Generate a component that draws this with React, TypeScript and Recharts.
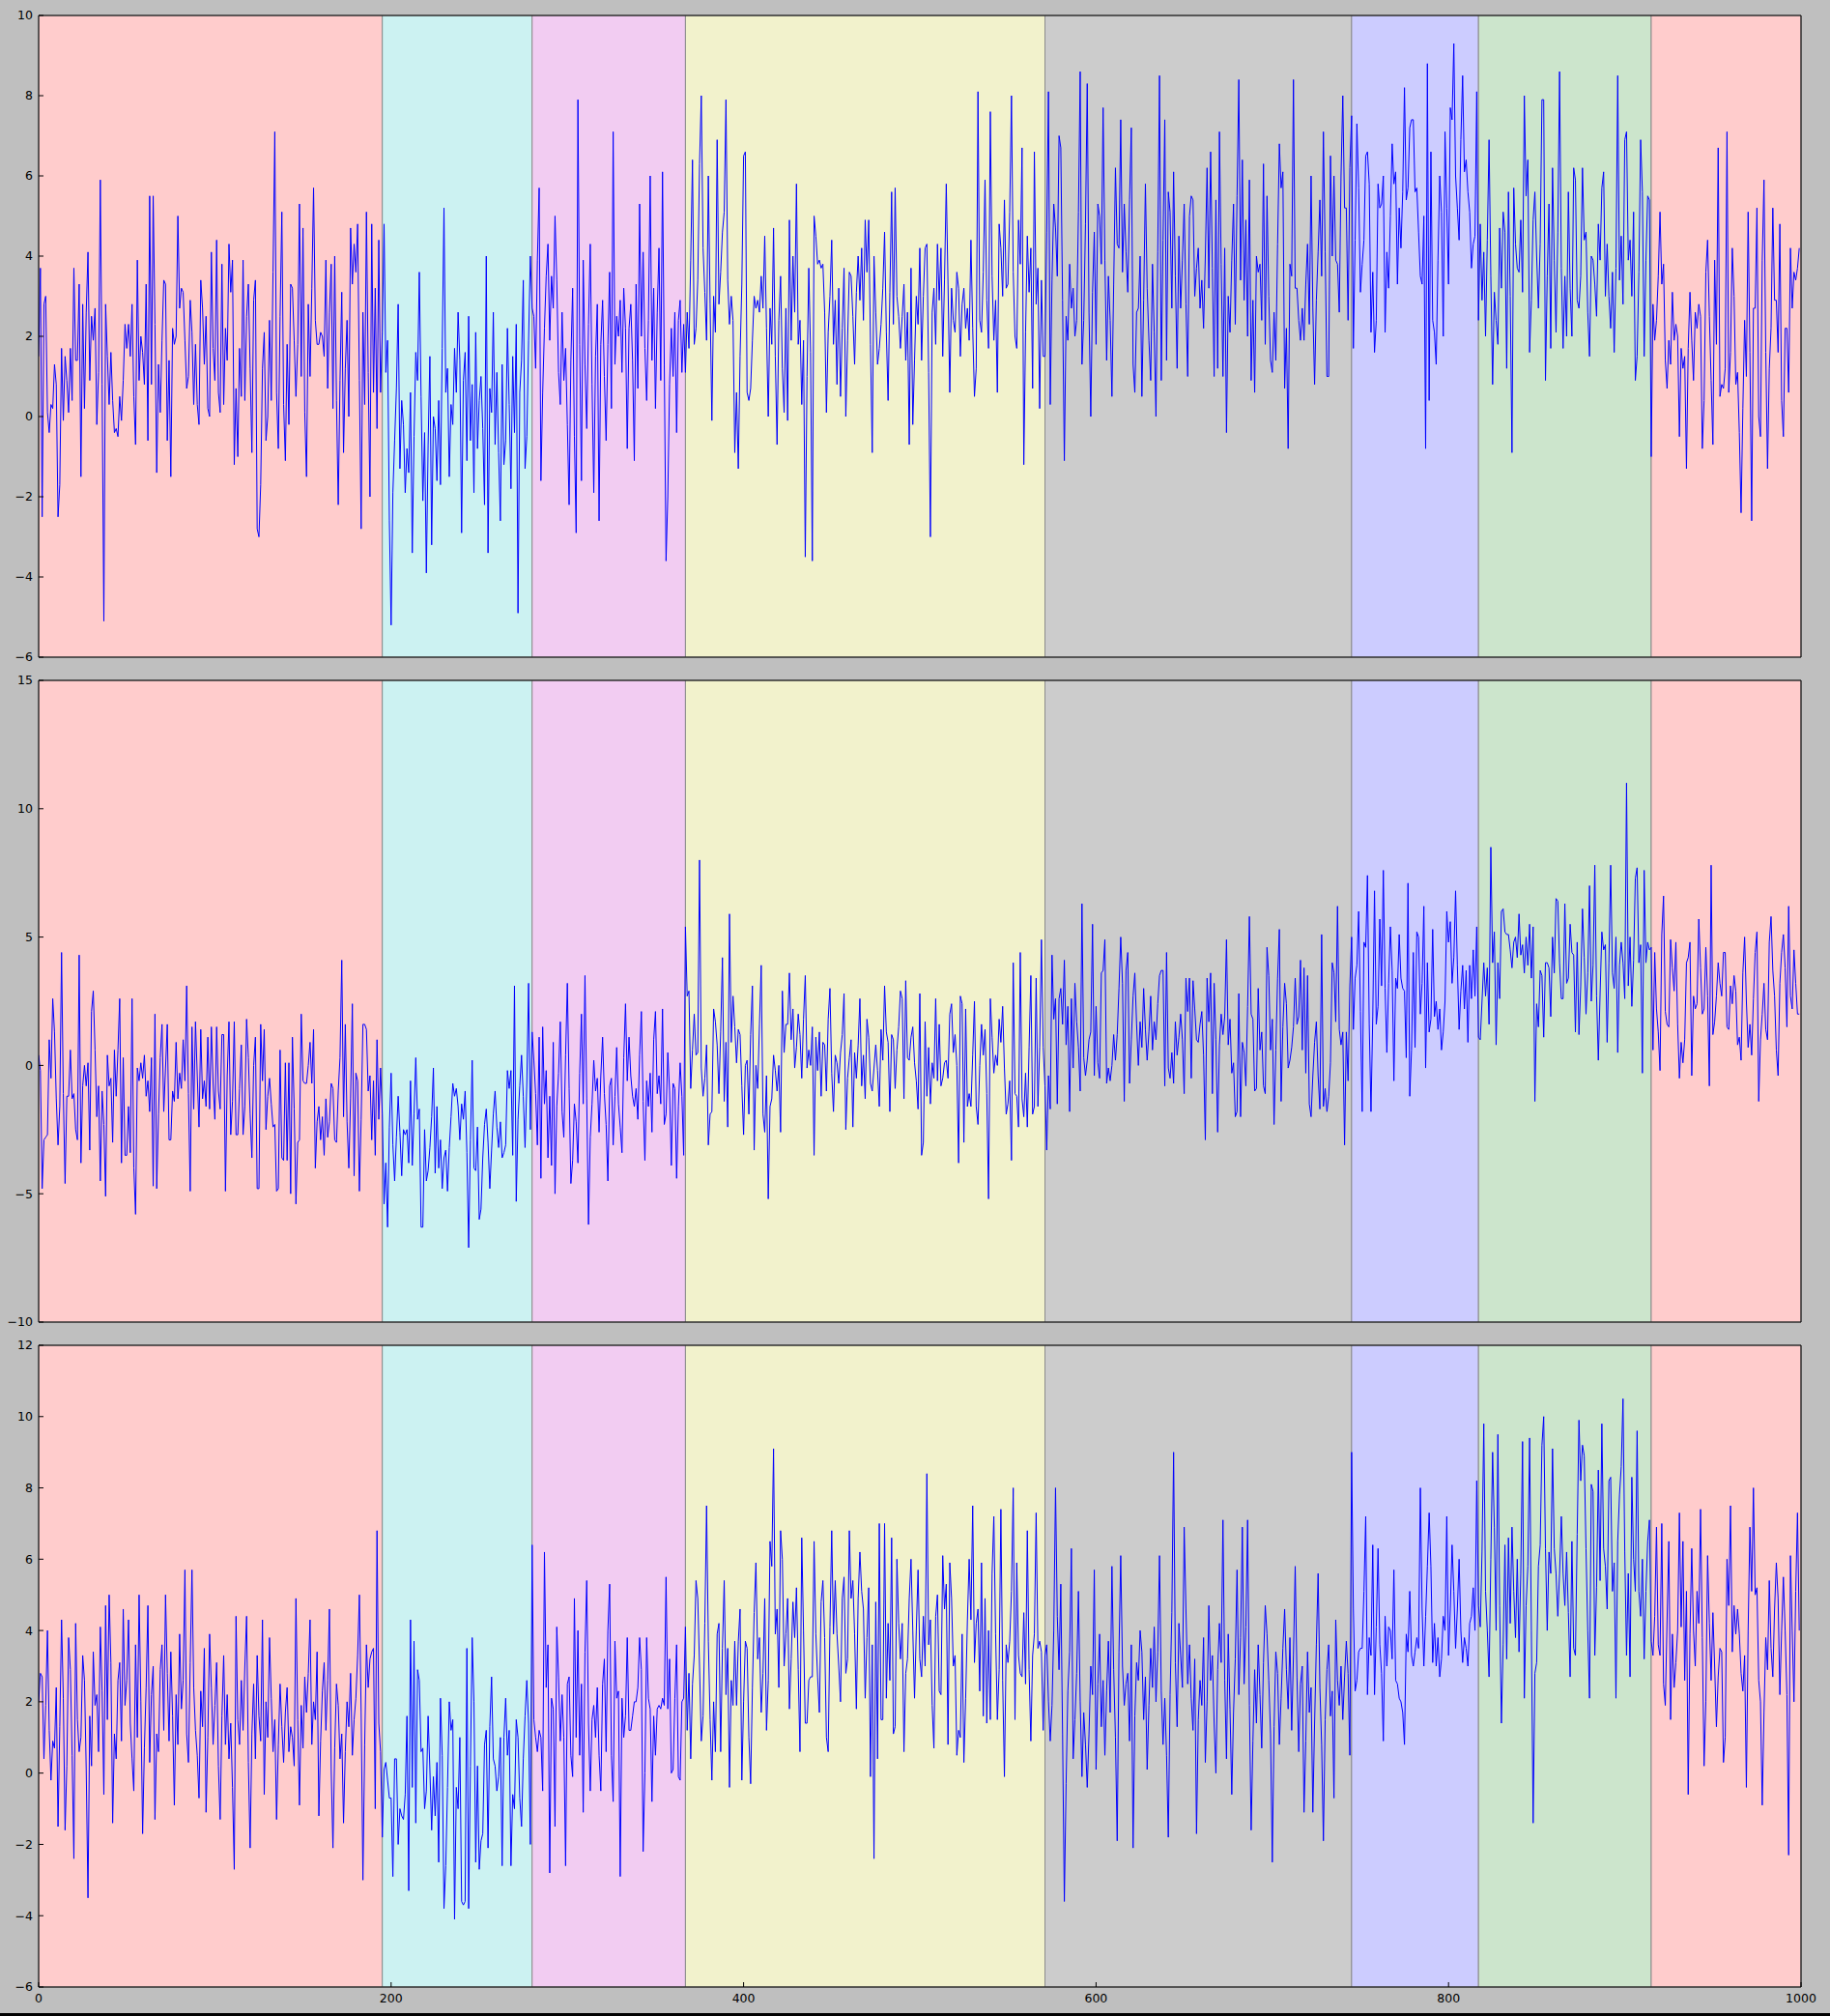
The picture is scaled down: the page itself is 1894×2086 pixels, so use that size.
import { LineChart, Line, XAxis, YAxis, ReferenceArea } from "recharts";

// shaded regions: boundaries on the x axis and their colours (left to right)
const SPAN_EDGES = [0, 195, 280, 367, 571, 745, 817, 915, 1000];
const SPAN_COLORS = ["#ffcccc", "#ccf2f2", "#f2ccf2", "#f2f2cc", "#cccccc", "#ccccff", "#cce5cc", "#ffcccc"];

const X_TICKS = [0, 200, 400, 600, 800, 1000];
const TOP_TICKS = [-6, -4, -2, 0, 2, 4, 6, 8, 10];
const MIDDLE_TICKS = [-10, -5, 0, 5, 10, 15];
const BOTTOM_TICKS = [-6, -4, -2, 0, 2, 4, 6, 8, 10, 12];

// one value per x = 0..999
const TOP_VALUES = [
  // red 0-194
  1.5, 3.7, -2.5, 2.8, 3.0, 0.1, -0.4, 0.3, 0.2, 1.3, 0.8, -2.5, -1.7, 1.7, -0.1, 1.5, 0.9, 0.1, 1.7, 0.4,
  3.7, 1.4, 1.4, 3.3, -1.5, 2.8, 0.2, 2.6, 4.1, 0.9, 2.5, 1.9, 2.7, -0.2, 1.1, 5.9, 0.8, -5.1, 2.8, 1.5,
  0.3, 1.6, 0.4, -0.4, -0.3, -0.5, 0.5, -0.1, 0.9, 2.3, 1.7, 2.3, 1.5, 2.8, 0.5, -0.7, 3.9, 0.9, 2.0, 1.6,
  0.8, 3.3, -0.6, 5.5, 0.8, 5.5, 2.3, -1.4, 1.3, 0.1, 1.9, 3.4, 3.3, -0.6, 1.4, -1.5, 2.2, 1.8, 2.0, 5.0,
  2.7, 3.2, 3.1, 1.9, 0.7, 1.0, 2.9, 2.1, 0.3, 1.8, 0.3, -0.2, 3.4, 2.7, 1.3, 2.5, 0.2, 0.0, 4.1, 1.7,
  0.9, 4.4, 0.6, 0.1, 3.8, 0.3, 2.2, 1.4, 4.3, 3.1, 3.9, -1.2, 0.7, -1.0, 1.7, 0.5, 3.9, 0.4, 2.5, 3.3,
  1.2, -0.9, 2.9, 3.4, -2.8, -3.0, -1.7, 1.2, 2.1, -0.6, 0.0, 2.4, 0.4, 3.6, 7.1, 0.6, -0.8, 2.5, 5.1, 0.3,
  -1.1, 1.8, -0.2, 3.3, 3.2, 1.9, 0.5, 1.8, 5.3, 1.0, 4.7, 0.1, -1.5, 2.8, 1.0, 3.2, 5.7, 2.4, 1.8, 1.8,
  2.1, 2.0, 1.5, 3.9, 0.7, 2.6, 3.8, 0.2, 4.0, 0.4, -2.2, 0.9, 3.1, -0.9, 1.2, 2.4, 0.0, 4.7, 3.3, 4.3,
  3.6, 4.8, 0.9, -2.8, 2.6, 0.3, 5.1, 1.1, -2.0, 4.8, 0.6, 3.2, -0.3, 4.4, 0.6,
  // cyan 195-279
  2.1, 4.8, 1.1, 1.9, -2.6, -5.2, -1.9, -0.6, 0.7, 2.8, -1.3, 0.4, -0.2, -1.9, -0.8, -1.4, 0.6, -3.4, -0.5, 1.6,
  0.9, 3.6, 0.5, -2.1, -0.4, -3.9, -0.7, 1.5, -3.2, 0.0, -0.3, -1.6, 0.4, -1.7, 1.7, 5.2, 0.6, 1.2, -1.5, 0.3,
  -0.2, 1.7, 0.6, 2.6, 1.4, -2.9, 0.9, 1.6, -1.1, 2.5, -0.6, 0.8, -1.9, 2.1, -0.8, 0.4, 1.0, -0.3, -2.2, 4.0,
  -3.4, 0.7, 0.1, 2.6, -0.7, 1.1, -0.9, -2.6, 1.3, -1.2, -0.6, 2.2, 0.3, -1.8, 1.5, -0.4, 2.3, -4.9, 0.6, 1.4,
  3.4, -1.3, -0.5, 1.9, 4.0,
  // magenta 280-366
  2.7, 2.5, 1.2, 3.9, 5.7, -1.6, 0.6, 2.2, 3.5, 4.3, 1.9, 3.5, 2.7, 5.0, 3.4, 1.1, 0.3, 2.6, 0.9, 1.7,
  -0.2, -2.2, 1.4, 3.2, -0.5, -2.9, 7.9, 1.8, -1.6, 3.9, 1.3, -0.3, 2.3, 4.3, 0.8, -1.9, 1.5, 2.8, -2.6, 1.8,
  2.9, 1.0, -0.6, 1.8, 3.6, 0.2, 7.1, 1.3, 2.5, 2.0, 2.9, 1.1, 3.2, 2.2, -0.8, 2.2, 2.8, 1.4, -1.1, 3.3,
  0.7, 5.3, 2.0, 4.1, 1.7, 0.4, 2.4, 6.0, 1.4, 3.2, 0.2, 2.6, 4.2, 0.9, 6.1, 1.3, -3.6, -2.0, 0.8, 2.2,
  1.0, 2.6, -0.4, 2.4, 2.9, 1.1, 2.3,
  // yellow 367-570
  1.1, 2.6, 1.7, 3.9, 6.4, 1.8, 2.2, 3.4, 6.3, 8.0, 4.2, 3.1, 1.9, 6.0, 2.8, -0.1, 3.0, 2.1, 6.9, 2.8,
  3.6, 4.6, 5.1, 7.9, 3.4, 2.3, 3.0, 2.4, -0.9, 0.6, -1.3, 1.5, 3.3, 6.5, 6.6,
  0.6, 0.4, 0.7, 1.9, 3.0, 2.7, 2.9, 2.6, 3.5, 2.7, 4.5, 2.2, 0.0, 2.7, 1.8, 4.7, 1.5, -0.7, 2.4, 3.5,
  1.2, 0.1, 2.7, -0.1, 4.9, 1.9, 4.0, 2.6, 5.8, 1.8, 2.4, 0.3, 1.9, -3.5, 1.0, 3.7, 1.6, -3.6, 5.0, 4.5,
  3.8, 3.9, 3.7, 3.8, 2.6, 0.1, 2.1, 3.0, 4.4, 1.8, 2.9, 0.8, 3.2, 0.5, 2.2, 3.7, 0.0, 1.9, 3.6, 3.5,
  2.5, 1.3, 3.1, 4.0, 2.9, 4.2, 2.4, 4.9, 3.6, 4.9, 1.8, -0.9, 4.0, 2.6, 1.3, 1.7, 2.3, 3.2, 4.6, 2.1,
  0.4, 3.1, 5.6, 2.3, 5.7, 3.0, 2.5, 1.7, 2.5, 3.3, 1.4, 2.6, -0.7, 3.7, -0.2, 1.4, 3.0, 2.3,
  4.2, 1.4, 3.0, 4.2, 4.3, 1.1, -3.0, 2.6, 3.2, 1.8, 4.3, 2.9, 4.2, 1.5, 3.4, 5.8, 3.3, 0.6, 3.2, 2.4,
  2.1, 3.6, 3.2, 1.5, 2.8, 3.2, 2.2, 2.7, 1.9, 4.4, 2.2, 0.5, 1.2, 8.1, 2.4, 2.1, 3.6, 5.9, 2.9, 1.7,
  7.6, 3.5, 1.9, 2.9, 0.6, 4.8, 4.2, 3.0, 5.4, 3.2, 3.3, 5.1, 8.0, 3.6, 2.0, 1.7, 4.9, 3.8, 6.7, -1.2,
  2.1, 4.5, 3.1, 4.2, 0.7, 6.6, 2.8, 3.7, 0.2, 3.4, 1.5,
  // grey 571-744
  1.5, 4.6, 8.1, 0.3, 3.4, 5.3, 4.7, 3.5, 7.0, 6.7, 2.9, -1.1, 2.5, 1.9, 3.8, 2.7, 3.2, 2.0, 2.4, 5.1,
  8.6, 1.3, 2.4, 4.8, 8.3, 2.6, 0.0, 3.1, 4.6, 1.8, 5.3, 5.0, 3.8, 7.7, 3.9, 1.4, 3.5, 2.4, 0.5, 3.3,
  6.2, 4.3, 4.2, 7.4, 3.6, 5.3, 4.1, 3.1, 5.4, 7.2, 1.3, 0.6, 2.6, 2.7, 4.0, 0.5, 2.9, 5.8, 3.2, 1.9,
  0.9, 3.8, 2.1, 0.0, 4.1, 8.5, 0.9, 4.4, 7.4, 1.4, 5.6, 5.1, 2.7, 6.1, 3.5, 1.2, 4.5, 2.7, 3.9, 5.3,
  2.8, 1.0, 5.0, 5.5, 5.4, 3.0, 3.7, 4.2, 2.7, 3.4, 2.2, 4.0, 6.2, 3.2, 6.6, 3.7, 1.0, 5.4, 1.2, 7.1,
  3.8, 1.0, 4.2, -0.4, 3.0, 2.1, 3.9, 5.3, 2.3, 5.5, 8.4, 3.4, 6.4, 2.9, 4.9, 2.0, 5.9, 0.9, 2.9, 0.6,
  4.0, 3.6, 3.8, 2.4, 6.3, 1.8, 5.5, 3.0, 1.4, 1.1, 2.6, 1.4, 4.3, 6.8, 5.7, 6.1, 0.7, 2.2, -0.8, 3.8,
  3.5, 8.4, 3.2, 3.2, 2.4, 1.9, 2.7, 1.9, 3.3, 4.3, 2.3, 6.0, 2.7, 0.8, 2.9, 4.1, 5.4, 3.5, 7.1, 4.1,
  1.0, 1.0, 6.5, 4.0, 6.0, 3.9, 3.8, 2.6, 6.0, 8.0, 5.2, 5.2, 2.4, 6.2,
  // blue 745-816
  7.5, 1.7, 4.4, 7.3, 5.7, 3.1, 3.8, 4.4, 6.5, 6.6, 5.8, 2.1, 3.6, 1.6, 2.4, 5.8, 5.2, 5.3, 6.0, 2.1,
  4.1, 3.2, 5.0, 6.8, 5.8, 6.1, 3.3, 5.2, 4.2, 5.6, 8.2, 5.4, 5.7, 7.2, 7.4, 7.4, 5.6, 5.7, 4.6, 3.5,
  3.3, 5.0, -0.8, 8.8, 0.4, 6.6, 2.4, 2.1, 1.3, 3.9, 6.0, 5.1, 2.0, 7.1, 5.2, 3.3, 7.7, 7.4, 9.3, 6.0,
  5.2, 4.4, 6.9, 8.5, 6.1, 6.4, 5.6, 5.1, 3.7, 4.3, 4.5, 8.1,
  // green 817-914
  2.4, 4.8, 2.9, 4.1, 2.0, 4.4, 6.9, 3.5, 0.8, 3.1, 2.4, 1.8, 4.7, 3.2, 5.1, 4.6, 1.2, 5.6, 3.0, -0.9,
  5.7, 4.3, 3.7, 3.6, 4.9, 3.1, 8.0, 5.5, 6.4, 1.6, 2.9, 4.9, 5.6, 4.0, 2.7, 4.3, 7.9, 7.9, 0.9, 3.5,
  5.3, 1.7, 6.2, 3.9, 2.1, 4.6, 8.6, 3.7, 1.7, 3.5, 2.0, 5.6, 3.2, 2.0, 6.2, 5.9, 2.9, 2.7, 3.5, 6.2,
  4.4, 4.6, 2.6, 1.5, 4.0, 3.9, 3.3, 2.5, 4.8, 3.9, 5.7, 6.1, 3.0, 4.3, 3.0, 2.2, 3.6, 1.6, 3.7, 8.5,
  3.4, 4.5, 2.8, 6.9, 7.1, 3.9, 4.4, 3.0, 5.1, 0.9, 1.5, 3.6, 6.9, 5.6, 1.5, 3.9, 5.5, 5.4,
  // red 915-999
  -1.0, 2.8, 1.9, 2.4, 3.5, 5.1, 3.3, 3.8, 1.4, 0.7, 1.9, 1.3, 3.1, 1.9, 2.3, 2.0, -0.5, 1.7, 1.2, 1.5,
  -1.3, 1.7, 3.1, 1.9, 0.9, 2.6, 2.2, 2.8, 2.5, -0.8, 0.4, 3.6, 4.4, 2.5, 0.9, -0.7, 3.9, 1.8, 6.7, 0.5,
  0.8, 0.7, 1.2, 7.1, 0.6, 1.6, 4.2, 3.0, 0.8, 1.1, -0.4, -2.4, 0.2, 2.4, 1.0, 5.1, 1.6, -2.6, 2.7, 2.7,
  5.2, 0.0, -0.5, 3.9, 5.9, 1.6, -1.3, 1.2, 2.2, 5.2, 2.9, 2.9, 1.6, 4.8, 0.4, -0.5, 2.2, 2.2, 0.6, 4.2,
  2.7, 3.6, 3.4, 3.7, 4.2,
];

const MIDDLE_VALUES = [
  // red 0-194
  0.4, -0.2, -4.8, -2.9, -2.8, -2.7, 1.0, -0.5, 2.6, 1.3, -1.3, -3.1, -1.6, 4.4, -1.1, -4.6, -1.2, -1.2, 0.6, -1.3,
  -1.1, -2.5, -2.9, 4.3, -3.8, -0.8, 0.0, -0.8, 0.1, -3.3, 2.1, 2.9, 0.6, -2.0, -0.8, -4.5, -1.0, -2.3, -5.1, 0.4,
  -0.8, -0.5, -3.0, 0.6, -1.2, 0.6, 2.6, -3.8, 0.3, -3.5, -3.5, -1.6, -3.4, 2.6, -4.0, -5.8, -0.1, -0.6, 0.1, -0.5,
  0.4, -1.2, -0.6, -1.8, 0.3, -4.7, 2.0, -4.8, -1.9, 0.3, 1.6, -1.8, -0.1, 1.6, -2.9, -2.9, -1.0, -1.4, 0.9, -1.3,
  -0.3, -0.9, 1.0, -0.6, 3.1, -1.1, -4.9, 1.5, -1.7, 1.7, -0.4, -2.4, 1.4, -1.3, -0.6, -1.6, 1.1, -1.7, 1.5, -0.7,
  -2.1, 1.5, -1.0, -1.7, 1.2, 1.2, -4.9, -0.4, 1.7, -2.7, -1.4, 1.7, -2.7, -2.7, -0.9, 0.8, -2.7, -1.6, 1.8, 0.3,
  -1.9, -3.6, 0.0, 1.1, -4.8, -4.8, 1.6, -0.6, 1.4, -2.5, -1.2, -0.5, -1.5, -2.4, -2.3, -4.9, -4.8, 0.6, -3.6, -3.7,
  0.1, -3.7, 0.1, -5.0, 1.1, -1.7, -5.4, -3.0, -2.9, 2.0, -0.6, -0.7, -0.7, 0.0, 0.9, -0.7, 1.4, -4.0, -2.2, -1.6,
  -2.9, -2.0, -3.5, -1.3, -2.8, -2.2, -0.7, -0.9, -2.9, -3.0, -1.0, 0.3, 4.1, -2.0, 1.6, -2.2, -4.0, -1.3, 2.4, -4.3,
  -0.3, -0.6, -4.9, -2.1, 1.6, 1.6, 1.4, -1.0, -0.4, -2.9, -0.6, -3.5, 1.0, -2.1, -0.1,
  // cyan 195-279
  -1.9, -5.4, -3.8, -6.3, -2.4, -0.3, -3.1, -4.5, -2.8, -1.2, -2.6, -4.3, -2.5, -2.7, -2.5, -3.8, -0.6, -3.9, -1.9, 0.3,
  -2.1, -1.7, -6.3, -6.3, -2.5, -4.5, -4.1, -3.2, -2.0, -0.1, -4.2, -1.6, -4.0, -2.9, -4.8, -3.6, -3.3, -4.9, -3.2, -2.0,
  -0.7, -1.2, -0.9, -1.6, -2.9, -1.5, -2.1, -1.0, -3.4, -7.1, -2.9, 0.2, -4.0, -4.1, -2.4, -6.0, -5.6, -3.6, -2.3, -1.7,
  -3.0, -4.8, -3.3, -1.9, -1.0, -2.4, -3.2, -2.2, -3.6, -3.4, -3.1, -0.2, -0.9, -0.2, -3.5, 3.1, -5.3, -2.1, -0.8, 0.4,
  -1.2, -3.2, -0.7, 3.2, -2.5,
  // magenta 280-366
  1.3, 0.2, -1.1, -3.1, 1.1, -4.4, 1.5, -1.5, -0.2, -3.6, -1.2, -3.9, 0.9, -5.0, -1.6, -0.3, 1.7, -1.8, -2.8, 0.4,
  3.2, -0.9, -4.6, -3.7, -1.5, -2.2, -3.8, -0.3, 2.0, -1.5, 3.5, -1.3, -6.2, -2.8, -1.5, 0.2, -1.0, -0.5, -2.6, -0.4,
  1.1, -1.1, -2.3, -4.5, -0.8, -0.5, -3.1, -1.2, 0.7, -1.5, -2.4, -3.4, 0.3, 2.4, -0.6, 1.1, -0.4, -1.2, -1.6, -0.9,
  -2.1, 0.4, 2.1, -1.4, -3.7, -0.6, -1.6, -0.3, -2.6, 1.0, 2.1, -1.1, -0.4, -1.5, 2.2, -2.3, -1.9, 0.5, -1.0, -3.9,
  -0.7, -0.9, -4.4, -1.6, 0.1, -1.2, -3.5,
  // yellow 367-570
  5.4, 2.7, 2.9, -0.9, 0.6, 2.0, 0.4, 0.5, 8.0, -0.1, -1.2, -0.5, 0.8, -3.1, -1.9, -1.8, 2.2, 1.7, 0.8, -1.1,
  1.3, 4.2, -1.4, 0.9, -2.4, 5.9, 0.9, 2.7, 1.5, 0.1, 1.4, 1.2, -0.8, -2.7, 0.0, 0.2, -1.9, 1.2, 3.1, -3.3,
  0.0, -0.9, 1.6, 3.9, -1.9, -2.6, -0.4, -5.2, -1.6, -1.3, 0.4, -0.2, -1.0, 0.0, -2.6, 2.9, 0.5, 1.6, 1.6, 3.6,
  1.0, 2.2, -0.1, 0.7, 2.0, 1.2, -0.5, 1.8, 3.5, -0.1, 0.6, 0.0, 1.5, -3.5, 1.1, -0.2, 1.3, -1.2, 0.9, 0.8,
  -1.0, 1.8, 3.0, -0.3, -1.8, 0.4, 0.1, -0.7, 0.5, 1.2, 2.8, -2.5, -0.5, 0.3, 1.0, -2.4, 0.5, -0.5, 0.8, 2.6,
  -0.8, 0.4, -1.3, 1.8, 1.1, -0.7, -1.0, -0.1, 0.8, -0.2, -1.6, 1.4, 0.2, 3.1, 1.3, 0.9, -1.8, 1.2, 1.0, -0.9,
  0.6, 1.5, 2.9, 2.6, -1.3, 3.3, 0.3, 0.2, 1.1, 1.5, 0.1, -0.6, -1.7,
  2.8, -3.5, -3.0, 1.7, -1.2, 0.7, -1.5, 0.1, -0.5, 2.6, -0.6, 1.6, -0.8, -0.5, 0.1, 0.2, -0.5, 2.0, 2.4, 0.5,
  1.2, 0.0, -3.8, 2.7, 2.4, -3.0, 2.2, -1.6, -1.1, -1.6, 0.4, 2.5, -1.6, -2.3, 0.0, 1.6, 0.4, 1.4, -1.1, -5.2,
  2.6, 1.1, -0.3, 0.4, 0.0, 1.8, 0.9, 2.3, -0.1, -1.9, -1.5, -0.6, -3.7, 4.0, -1.1, -1.2, -2.4, 4.4, -1.3, -2.0,
  -0.3, -2.4, 0.7, 3.5, -1.9, -1.6, 3.4, -1.6, 0.7, 4.9, 0.7,
  // grey 571-744
  -0.8, -3.3, -0.4, -1.7, 4.3, 1.8, 2.6, -1.5, 2.6, 3.0, 1.6, 4.1, 0.8, 2.3, -1.8, 2.6, -0.1, 3.2, 1.7, 0.7,
  -1.0, 6.3, 0.3, -0.4, 0.2, 1.0, 1.3, 5.5, -0.4, 2.3, 0.1, -0.5, 3.6, 3.7, 4.9, -0.7, -0.1, -0.6, 0.0, 1.2,
  0.2, 1.2, 3.0, 5.0, 3.2, -1.4, 3.7, 4.4, -0.7, 1.0, 2.7, 3.6, 1.6, 0.0, 1.7, 0.7, 3.0, 1.4, 0.2, 1.3,
  2.7, 0.6, 1.7, 1.0, 2.4, 3.5, 3.7, 3.7, -0.8, 4.4, -0.1, -0.5, 0.5, -0.7, 1.7, 0.4, 1.1, 2.0, 1.0, -1.1,
  3.4, 2.1, 3.4, -0.5, 3.3, 2.2, 1.0, 0.9, 1.6, 2.1, 0.4, -2.9, 3.4, 1.7, 3.6, -1.1, 3.2, 1.0, -2.6, 0.8,
  2.0, 1.2, 1.9, 4.9, 0.8, 1.8, -0.3, 0.1, -2.0, -1.8, 2.8, -2.0, 0.9, 0.5, -0.8, 2.3, 5.8, 2.0, 1.8, -1.0,
  -0.9, 3.0, 0.6, 1.3, -0.8, -1.1, 4.6, 3.5, 0.6, 1.8, -2.3, 0.6, 3.4, 5.3, -1.4, 1.5, 3.2, 2.4, -0.1, 0.2,
  0.7, 1.5, 3.4, 1.6, 1.9, 4.1, 0.6, 3.8, -0.3, 3.5, -1.5, -2.0, -0.4, 0.9, 1.7, -0.4, -1.7, 5.1, -1.6, -0.9,
  -1.8, -1.2, 0.1, 4.0, 3.6, 1.7, 6.2, 1.4, 0.8, 1.3, -3.1, 1.3, -0.6, 3.1,
  // blue 745-816
  5.0, 1.4, 3.4, 3.9, 6.0, 2.1, -1.8, 4.8, 4.6, 7.4, 1.6, -1.8, 1.9, 6.8, 1.6, 2.3, 5.7, 3.1, 7.6, 3.0,
  0.5, 3.2, 5.4, 3.7, -0.6, 3.4, 3.0, 5.1, 3.4, 3.0, 2.9, 0.3, 7.1, -1.2, 0.6, 4.4, 0.7, 5.2, 5.0, 2.0,
  3.2, 6.2, -0.1, 4.0, 1.3, 1.8, 5.3, 1.9, 2.5, 1.4, 2.2, 0.6, 1.3, 2.5, 6.0, 4.8, 5.6, 3.2, 4.2, 6.8,
  3.9, 1.4, 2.9, 3.9, 2.2, 3.7, 0.9, 3.9, 2.6, 4.5, 2.7, 5.4,
  // green 817-914
  1.1, 1.0, 2.5, 4.0, 2.7, 3.8, 1.6, 8.5, 4.0, 5.2, 0.8, 4.0, 2.6, 6.0, 6.1, 5.2, 5.1, 5.1, 4.5, 3.8,
  4.8, 5.0, 4.2, 5.9, 4.3, 4.7, 3.6, 5.0, 3.9, 5.5, 3.4, 5.4, -1.4, 2.4, 1.5, 3.7, 3.5, 1.1, 4.0, 4.0,
  3.8, 1.9, 5.0, 3.6, 6.5, 6.4, 4.0, 2.6, 2.6, 6.3, 3.2, 3.4, 5.5, 4.4, 4.3, 1.3, 4.8, 1.2, 3.1, 6.1,
  4.2, 2.0, 3.6, 7.0, 2.5, 3.9, 7.8, 2.7, 0.2, 2.8, 5.2, 4.5, 4.7, 0.9, 4.0, 7.8, 3.6, 3.0, 5.0, 0.5,
  3.9, 4.8, 4.0, 2.6, 11.0, 3.1, 5.0, 2.3, 4.1, 7.3, 7.7, 4.0, 4.7, -0.3, 7.6, 4.0, 4.8, 4.5,
  // red 915-999
  4.6, 0.6, 4.4, 2.2, 1.3, -0.2, 5.1, 6.6, 2.1, 1.6, 1.5, 4.9, 3.8, 2.9, 4.8, 1.6, -0.5, 0.9, 0.1, 1.0,
  4.0, 4.2, 4.8, -0.4, 2.7, 2.2, 2.4, 5.7, 3.8, 2.0, 2.2, 4.6, 2.7, -0.8, 7.8, 1.2, 1.7, 2.7, 4.0, 3.2,
  2.7, 4.4, 4.4, 1.5, 1.4, 3.1, 2.4, 3.5, 2.9, 0.8, 1.1, 0.2, 3.6, 5.0, 2.5, 0.7, 1.6, 0.4, 2.6, 4.4,
  5.2, -1.4, 1.0, 2.0, 3.2, 1.4, 1.0, 4.8, 5.8, 3.7, 2.7, 0.6, -0.4, 3.2, 4.4, 5.1, 3.8, 1.5, 6.2, 2.7,
  2.2, 4.5, 3.2, 2.0, 2.0,
];

const BOTTOM_VALUES = [
  // red 0-194
  2.0, 2.8, 2.7, 0.4, 1.9, 4.0, 1.2, -0.2, 0.9, 0.7, 2.4, -1.5, 1.3, 4.3, 2.1, -1.6, 0.2, 3.8, 2.9, 0.5,
  -2.4, 4.2, 1.5, 0.6, 1.0, 3.3, 2.6, 0.1, -3.5, 1.6, 0.2, 3.4, 1.9, 2.2, 0.6, 4.1, 2.3, -0.6, 4.7, 1.5,
  5.0, 3.1, -1.4, 1.1, 0.4, 2.6, 3.1, 0.9, 4.6, 1.9, 2.6, 4.3, 1.4, 0.4, -0.5, 3.6, 1.0, 5.0, 2.0, -1.7,
  0.7, 2.4, 4.7, 0.3, 2.2, 3.0, -1.3, 1.1, 0.6, 2.9, 3.6, 1.2, 5.0, 2.8, 0.9, 3.4, 1.6, -0.9, 2.2, 0.8,
  3.9, 1.8, 2.6, 5.7, 1.1, 0.3, 3.1, 5.7, 2.4, 1.2, 0.5, -0.7, 2.3, 1.3, 3.5, -1.1, 1.0, 3.9, 2.4, 0.8,
  1.9, 3.1, 0.2, -1.3, 1.6, 3.3, 0.8, 2.2, 0.4, 1.4, -0.4, -2.7, 4.4, 1.5, 0.8, 2.6, 1.2, 3.0, 4.4, 0.3,
  -2.1, 1.1, 2.5, 0.4, 3.3, 1.6, 0.9, 4.3, -0.6, 2.0, 1.0, 3.8, 2.1, 0.6, 1.5, -1.3, 0.8, 2.5, 1.3, 0.3,
  1.7, 2.4, 0.6, 1.3, 1.0, 0.2, 4.9, 1.5, -0.9, 1.9, 0.7, 2.7, 1.7, 2.8, 4.3, 0.8, 2.0, 1.5, 3.4, -1.2,
  0.9, 2.3, 3.1, 1.2, 2.6, 4.6, 0.1, -2.1, 0.7, 2.5, 1.9, 0.4, 1.1, -1.4, 0.6, 2.0, 1.3, 2.8, 0.5, 1.5,
  2.1, 3.3, 5.0, 1.7, -3.0, 0.8, 3.6, 2.4, 3.2, 3.4, 3.5, -1.0, 6.8, 1.4, 0.6,
  // cyan 195-279
  -1.8, 0.1, 0.3, -0.2, -0.7, -0.7, -2.9, 0.4, 0.4, -2.0, -1.0, -1.2, -1.3, -0.6, 1.6, -3.3, 4.3, -0.4, 3.7, -1.4,
  2.9, 2.6, 0.6, 0.7, -1.0, -0.5, 1.6, 0.1, -1.6, -0.1, -1.2, 0.3, -2.5, 2.1, 0.5, -3.8, -2.6, -0.4, 2.0, 1.2,
  1.5, -4.1, -0.4, -1.0, 1.0, -3.6, -3.7, -3.6, 3.5, -3.8, 0.2, 3.8, 2.0, -2.5, 0.2, -2.7, -1.9, -1.7, 0.8, 1.2,
  -2.1, 1.3, 2.7, 0.4, 0.2, -0.5, -0.1, 1.0, -2.6, 1.0, 2.1, 0.5, 1.2, -2.6, -0.6, -1.0, 1.5, 1.0, -0.7, -1.5,
  0.4, 1.6, 2.6, 1.4, -2.0,
  // magenta 280-366
  6.4, 1.5, 1.0, 0.6, 1.2, 1.0, -0.5, 6.2, 2.4, 3.6, -2.8, 2.1, 1.8, -1.5, 4.1, 2.7, 0.9, 2.2, 1.0, -2.6,
  2.5, 2.7, 0.5, -0.1, 4.9, 1.0, 4.0, 0.5, 2.5, -1.1, 3.4, 5.4, 1.4, -0.5, 1.5, 1.9, 1.0, 2.4, 0.5, -0.5,
  2.5, 3.2, 0.6, 4.0, 5.3, 0.5, -0.8, 3.7, 2.1, 2.3, -2.9, 2.1, 1.0, 1.6, 3.8, 1.2, 1.2, 1.6, 2.0, 2.0,
  2.4, 3.8, 2.9, -2.2, 0.0, 3.8, 2.1, 1.8, -0.8, 1.6, 0.5, 1.8, 1.9, 1.8, 2.1, 1.9, 5.5, 1.8, 3.2, 0.0,
  0.1, 2.1, 3.6, -0.1, -0.2, 2.0, 2.1,
  // yellow 367-570
  4.1, 1.2, 2.8, 0.4, 2.5, 3.3, 5.4, 4.9, 3.0, 0.9, 1.6, 4.2, 7.5, 3.7, 1.5, -0.2, 2.0, 0.6, 3.9, 4.2,
  0.6, 3.5, 5.4, 2.2, 3.5, -0.4, 2.6, 1.9, 3.7, 1.9, 3.7, 4.6, -0.2, 2.0, 3.7, 3.5, 1.0, -0.3, 2.4, 4.5,
  5.9, 3.2, 3.8, 1.7, 2.8, 4.9, 1.2, 2.6, 6.5, 5.8, 9.1, 3.9, 4.6, 2.4, 6.8, 6.0, 3.0, 3.9, 4.9, 1.8,
  3.2, 4.8, 3.8, 5.2, 2.9, 0.6, 6.6, 4.0, 1.4, 1.4, 2.6, 2.7, 2.7, 6.5, 3.9, 2.7, 1.7, 4.8, 5.4, 3.8,
  1.0, 0.6, 4.1, 6.8, 3.9, 5.4, 3.9, 3.0, 2.0, 4.9, 5.5, 2.8, 3.2, 6.8, 4.9, 5.4, 3.9, 1.8, 4.9, 6.2,
  5.1, 4.6, 2.1, 3.8, 5.2, -0.1, 3.6, -2.4, 4.8, 0.4, 7.0, 1.5, 1.5, 7.0, 2.1, 4.2, 2.6, 6.6, 1.1, 1.3,
  6.0, 4.2, 3.2, 4.2, 0.6, 2.8, 3.2, 4.9, 6.0, 4.0, 2.1, 4.0, 5.7,
  3.2, 2.7, 4.4, 3.0, 8.4, 3.6, 4.3, 1.9, 0.7, 4.4, 5.0, 2.3, 2.2, 6.1, 4.6, 5.3, 0.8, 5.9, 4.9, 3.0,
  3.3, 0.5, 1.2, 1.0, 3.9, 0.3, 2.1, 4.3, 6.0, 4.3, 7.5, 3.1, 4.2, 4.6, 2.3, 5.9, 1.6, 4.9, 1.4, 4.0,
  1.5, 5.6, 7.2, 3.9, 1.5, 2.9, 7.4, 2.6, -0.1, 3.6, 3.1, 3.7, 5.1, 8.0, 1.5, 5.9, 3.3, 2.8, 2.7, 4.5,
  2.5, 6.8, 2.9, 0.9, 3.3, 3.9, 7.3, 3.5, 3.7, 3.4, 1.2,
  // grey 571-744
  3.3, 3.6, 2.0, 0.9, 1.9, 4.0, 8.0, 4.4, 2.9, 5.3, 1.1, -3.6, -0.3, 2.3, 3.4, 6.3, 0.4, 1.5, 2.8, 5.1,
  2.0, -0.1, 1.7, 0.8, -0.4, 1.1, 3.0, 2.2, 5.7, 0.1, 2.5, 3.9, 1.3, 2.6, 0.5, 2.3, 3.7, 1.7, 5.8, 2.9,
  1.0, -1.9, 3.4, 6.1, 3.0, 1.9, 2.5, 2.8, 0.9, 3.6, -2.1, 1.6, 3.1, 2.6, 4.0, 3.4, 1.5, 2.7, 0.1, 1.9,
  3.5, 2.4, 4.1, 2.0, 3.4, 6.1, 2.3, 0.8, 2.1, 0.5, -1.8, 2.2, 4.5, 9.0, 3.1, 1.3, 4.2, 3.3, 2.4, 6.9,
  4.6, 2.5, 3.6, 2.1, 1.2, 3.2, -1.7, 1.5, 2.6, 1.9, 3.8, 0.3, 2.0, 4.7, 2.6, 3.3, 1.4, 0.0, 2.9, 4.2,
  3.1, 7.1, 2.6, 0.4, 3.9, 1.8, -0.6, 1.7, 3.2, 5.7, 2.2, 3.8, 6.9, 2.5, 4.1, 7.1, 1.9, -1.6, 0.9, 2.9,
  1.4, 3.6, 2.2, 0.7, 3.1, 4.7, 3.9, 2.6, 1.1, -2.5, 1.3, 3.4, 2.8, 0.8, 2.1, 3.5, 4.6, 2.9, 1.8, 3.8,
  1.2, 3.3, 5.8, 2.7, 0.6, 2.5, 3.0, -1.1, 0.9, 3.4, 1.7, 2.4, -1.1, 1.4, 3.6, 5.6, 2.4, 0.8, -1.9, 1.5,
  2.9, 3.6, 1.6, 2.3, -0.7, 4.3, 2.6, 1.9, 3.0, 1.5, 2.7, 3.7, 2.8, 0.5,
  // blue 745-816
  9.0, 4.6, 2.3, 2.6, 3.4, 3.5, 3.5, 5.1, 7.2, 2.2, 3.8, 3.3, 6.4, 2.2, 4.1, 6.3, 3.6, 2.8, 0.9, 4.4,
  3.0, 4.1, 4.0, 3.2, 5.7, 2.6, 2.5, 2.1, 2.0, 1.7, 0.8, 3.9, 3.4, 5.1, 3.3, 3.0, 3.4, 3.8, 3.5, 8.0,
  4.6, 3.0, 4.4, 5.8, 7.3, 5.8, 3.1, 4.2, 3.0, 3.8, 2.7, 3.2, 4.4, 4.0, 7.2, 3.3, 4.6, 6.4, 5.1, 3.5,
  4.6, 6.0, 4.0, 3.1, 3.8, 3.5, 3.0, 4.2, 4.4, 5.2, 4.0, 8.2,
  // green 817-914
  4.7, 4.1, 6.2, 9.8, 5.1, 4.0, 2.7, 6.0, 9.0, 6.9, 4.0, 9.5, 4.7, 1.4, 3.6, 6.4, 3.2, 6.6, 4.2, 6.9,
  5.1, 3.8, 6.0, 3.4, 5.6, 9.3, 2.1, 4.7, 5.8, 9.4, 4.0, -1.4, 2.8, 3.1, 5.8, 6.4, 9.2, 10.0, 6.3, 4.0,
  6.2, 5.6, 9.1, 6.3, 5.6, 4.4, 5.6, 7.2, 5.6, 4.7, 6.2, 4.5, 2.7, 6.5, 3.5, 3.3, 6.7, 9.9, 8.2, 9.2,
  8.9, 6.3, 4.0, 2.1, 8.1, 7.9, 3.3, 5.2, 8.5, 5.4, 9.8, 6.3, 5.8, 4.6, 8.2, 8.3, 5.1, 5.9, 2.1, 6.5,
  7.8, 8.6, 10.5, 6.2, 3.3, 5.6, 2.7, 8.3, 6.0, 5.1, 9.6, 5.1, 4.4, 6.0, 3.2, 5.1, 6.5, 7.1,
  // red 915-999
  3.7, 3.3, 4.4, 6.9, 3.6, 3.3, 7.0, 2.5, 1.9, 4.3, 6.5, 1.5, 3.9, 2.4, 3.1, 4.0, 7.3, 4.1, 6.5, 2.6,
  5.1, -0.6, 3.9, 6.3, 4.0, 3.0, 5.1, 4.2, 7.4, 3.8, 0.2, 2.0, 6.1, 4.2, 2.6, 4.5, 3.0, 1.3, 2.7, 3.5,
  3.4, 0.3, 1.0, 6.0, 4.7, 7.5, 3.4, 4.7, 3.9, 4.6, 3.9, 2.8, 2.3, 3.3, -0.4, 4.0, 6.9, 5.1, 8.0, 5.0,
  5.2, 2.6, 2.0, -0.9, 1.7, 3.8, 2.9, 5.4, 3.5, 2.7, 4.6, 5.9, 4.9, 2.2, 4.0, 5.5, 4.0, 2.2, -2.3, 6.1,
  4.0, 2.0, 5.1, 7.3, 4.0,
];

const FONT = "'DejaVu Sans', Verdana, sans-serif";
const tickStyle = { fill: "#000", fontSize: 12.5, fontFamily: FONT };
const withMinus = (v: number) => String(v).replace("-", "\u2212");

interface PanelProps {
  values: number[];
  ticks: number[];
  top: number;
  height: number;
  showXLabels: boolean;
}

function Panel({ values, ticks, top, height, showXLabels }: PanelProps) {
  const rows = values.map((v, i) => ({ x: i, y: v }));
  const domain: [number, number] = [ticks[0], ticks[ticks.length - 1]];

  // plot area: x 40..1864, y 16..680 inside each panel
  return (
    <div style={{ position: "absolute", left: 0, top }}>
      <LineChart
        width={1894}
        height={height}
        data={rows}
        margin={{ top: 15, right: 29, bottom: 0, left: 0 }}
      >
        {SPAN_COLORS.map((c, i) => (
          <ReferenceArea
            key={i}
            xAxisId="b"
            yAxisId="l"
            x1={SPAN_EDGES[i]}
            x2={SPAN_EDGES[i + 1]}
            fill={c}
            fillOpacity={1}
            stroke="#8c8c8c"
            strokeWidth={1}
          />
        ))}
        <Line
          xAxisId="b"
          yAxisId="l"
          dataKey="y"
          stroke="#0000ff"
          strokeWidth={1}
          dot={false}
          activeDot={false}
          isAnimationActive={false}
        />
        <XAxis
          xAxisId="b"
          dataKey="x"
          type="number"
          domain={[0, 1000]}
          ticks={X_TICKS}
          interval={0}
          allowDataOverflow
          height={showXLabels ? 30 : 8}
          tickSize={-5}
          tickMargin={12}
          stroke="#000"
          tick={showXLabels ? tickStyle : false}
        />
        <XAxis
          xAxisId="t"
          orientation="top"
          dataKey="x"
          type="number"
          domain={[0, 1000]}
          ticks={X_TICKS}
          interval={0}
          allowDataOverflow
          height={1}
          tickSize={-5}
          stroke="#000"
          tick={false}
        />
        <YAxis
          yAxisId="l"
          type="number"
          domain={domain}
          ticks={ticks}
          interval={0}
          allowDataOverflow
          width={40}
          tickSize={-5}
          tickMargin={11}
          stroke="#000"
          tick={tickStyle}
          tickFormatter={withMinus}
        />
        <YAxis
          yAxisId="r"
          orientation="right"
          type="number"
          domain={domain}
          ticks={ticks}
          interval={0}
          allowDataOverflow
          width={1}
          tickSize={-5}
          stroke="#000"
          tick={false}
        />
      </LineChart>
    </div>
  );
}

export default function App() {
  return (
    <div
      style={{
        position: "absolute",
        left: 0,
        top: 0,
        width: 1894,
        height: 2086,
        background: "#bfbfbf",
        overflow: "hidden",
      }}
    >
      <Panel values={TOP_VALUES} ticks={TOP_TICKS} top={0} height={688} showXLabels={false} />
      <Panel values={MIDDLE_VALUES} ticks={MIDDLE_TICKS} top={688} height={688} showXLabels={false} />
      <Panel values={BOTTOM_VALUES} ticks={BOTTOM_TICKS} top={1376} height={710} showXLabels={true} />
      <div style={{ position: "absolute", left: 0, top: 2083, width: 1894, height: 3, background: "#000" }} />
    </div>
  );
}
